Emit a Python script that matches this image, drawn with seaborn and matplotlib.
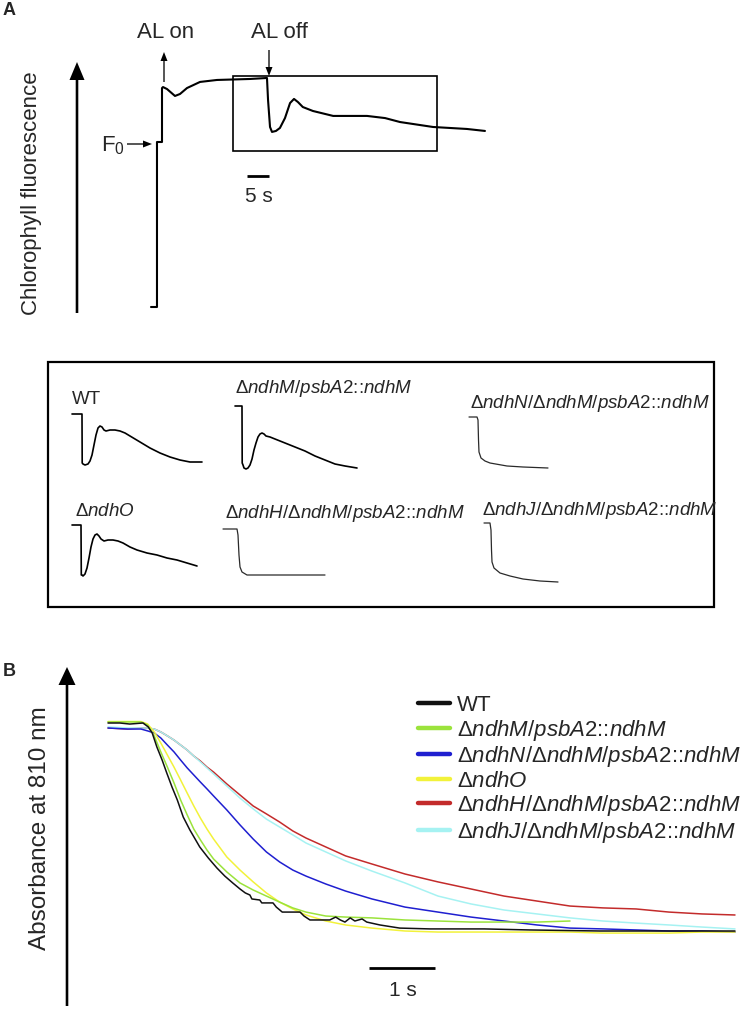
import numpy as np
import pandas as pd
import matplotlib
matplotlib.use("Agg")
import matplotlib.pyplot as plt
from matplotlib.patches import Rectangle
from matplotlib.lines import Line2D
import seaborn as sns

sns.set_theme(style="white")
plt.rcParams["font.family"] = ["Liberation Sans", "DejaVu Sans"]
plt.rcParams["mathtext.fontset"] = "custom"
plt.rcParams["mathtext.rm"] = "Liberation Sans"
plt.rcParams["mathtext.it"] = "Liberation Sans:italic"
plt.rcParams["mathtext.bf"] = "Liberation Sans:bold"

# ---------------- data ----------------
# Panel A: full chlorophyll fluorescence trace (time in s, fluorescence relative to F0)
a_time = [0, 1.36, 1.36, 2.5, 2.5, 2.73, 3.64, 5.45, 6.59, 8.18, 11.14, 15.0, 22.5,
          26.36, 26.6, 27.05, 27.5, 28.4, 29.3, 30.45, 31.6, 32.5, 33.4, 34.5, 36.8,
          41.4, 45.2, 49.1, 53.2, 56.6, 64.1, 71.8, 75.9]
a_fluor = [0, 0, 1.0, 1.0, 1.327, 1.333, 1.321, 1.279, 1.291, 1.327, 1.364, 1.376, 1.382,
           1.388, 1.255, 1.091, 1.061, 1.067, 1.085, 1.145, 1.236, 1.261, 1.242, 1.212, 1.188,
           1.158, 1.158, 1.158, 1.145, 1.121, 1.091, 1.079, 1.067]

# Panel A inset: post-illumination transients (time in s, relative fluorescence)
wt_t = [0, 3.33, 3.4, 3.67, 4.33, 5.33, 6.0, 6.67, 7.33, 8.0, 8.67, 9.33, 10.0, 10.67, 11.33,
        12.67, 14.33, 16.0, 17.67, 19.33, 22.67, 26.0, 29.33, 32.67, 36.0, 39.33, 43.33]
wt_v = [1, 1, 0.51, 0.50, 0.49, 0.50, 0.53, 0.59, 0.69, 0.79, 0.86, 0.88, 0.87, 0.84, 0.83,
        0.84, 0.84, 0.83, 0.81, 0.78, 0.72, 0.66, 0.61, 0.57, 0.54, 0.52, 0.52]
m_t = [0, 2.33, 2.4, 2.67, 3.0, 3.67, 4.33, 5.0, 5.67, 6.33, 7.0, 7.67, 8.33, 9.0, 9.67,
       10.33, 11.67, 13.33, 16.67, 20.0, 23.33, 26.67, 30.0, 33.33, 36.67, 40.67]
m_v = [1, 1, 0.43, 0.41, 0.38, 0.37, 0.38, 0.41, 0.47, 0.56, 0.63, 0.69, 0.72, 0.73, 0.72,
       0.70, 0.69, 0.67, 0.63, 0.59, 0.55, 0.50, 0.46, 0.42, 0.40, 0.38]
n_t = [0, 2.67, 3, 3.17, 3.33, 4, 5.33, 7, 12.67, 18, 26.33]
n_v = [1, 1, 0.97, 0.77, 0.65, 0.59, 0.56, 0.54, 0.51, 0.50, 0.49]
o_t = [0, 3.0, 3.1, 3.33, 3.67, 4.33, 5.0, 5.67, 6.33, 7.0, 7.67, 8.33, 9.0, 9.67, 10.67,
       12.0, 13.67, 15.33, 17.0, 19.33, 21.67, 25.0, 28.33, 31.67, 35.0, 38.33, 41.67]
o_v = [1, 1, 0.50, 0.50, 0.49, 0.51, 0.57, 0.67, 0.78, 0.86, 0.90, 0.91, 0.89, 0.86, 0.84,
       0.85, 0.85, 0.84, 0.82, 0.78, 0.75, 0.72, 0.70, 0.67, 0.65, 0.62, 0.59]
h_t = [0, 4.67, 5, 5.33, 5.67, 6.33, 8, 12.33, 22.33, 34]
h_v = [1, 1, 0.94, 0.74, 0.62, 0.57, 0.54, 0.54, 0.54, 0.54]
j_t = [0, 2, 2.33, 2.5, 2.67, 3.33, 5.33, 8.67, 13, 18.67, 24.67]
j_v = [1, 1, 0.93, 0.73, 0.61, 0.55, 0.50, 0.47, 0.44, 0.42, 0.41]

# Panel B: P700 re-reduction (time in s, relative absorbance at 810 nm)
b_wt_time = [0, 0.18, 0.33, 0.53, 0.61, 0.67, 0.74, 0.82, 0.89, 0.97, 1.05, 1.14, 1.24, 1.39,
             1.52, 1.65, 1.77, 1.89, 2.0, 2.08, 2.15, 2.18, 2.30, 2.33, 2.5, 2.55, 2.64, 2.91,
             2.97, 3.06, 3.36, 3.45, 3.52, 3.59, 3.67, 3.74, 3.85, 3.92, 4.12, 4.42, 4.88,
             5.70, 6.39, 7.45, 9.5]
b_wt = [1.0, 1.0, 0.995, 1.0, 0.981, 0.952, 0.885, 0.822, 0.760, 0.692, 0.630, 0.548, 0.486,
        0.404, 0.351, 0.303, 0.264, 0.231, 0.202, 0.183, 0.173, 0.154, 0.149, 0.135, 0.135,
        0.115, 0.091, 0.091, 0.072, 0.053, 0.053, 0.067, 0.053, 0.043, 0.063, 0.048, 0.058,
        0.043, 0.029, 0.014, 0.010, 0.010, 0.005, 0.0, 0.0]
b_time = [0, 0.3, 0.5, 0.6, 0.7, 0.8, 0.9, 1.0, 1.1, 1.2, 1.3, 1.4, 1.5, 1.6, 1.8, 2.0, 2.2,
          2.4, 2.6, 2.8, 3.0, 3.3, 3.6, 4.0, 4.5, 5.0, 5.5, 6.0, 6.5, 7.0, 7.5, 8.0, 8.5, 9.0, 9.5]
b_m = [1.005, 1.005, 1.005, 0.990, 0.938, 0.861, 0.788, 0.712, 0.630, 0.558, 0.490, 0.438,
       0.389, 0.346, 0.284, 0.231, 0.197, 0.168, 0.139, 0.111, 0.091, 0.072, 0.067, 0.063,
       0.053, 0.048, 0.043, 0.043, 0.043, 0.048, np.nan, np.nan, np.nan, np.nan, np.nan]
b_n = [0.976, 0.971, 0.971, 0.962, 0.952, 0.928, 0.894, 0.861, 0.822, 0.784, 0.750, 0.716,
       0.683, 0.649, 0.582, 0.510, 0.442, 0.380, 0.332, 0.293, 0.264, 0.226, 0.192, 0.154,
       0.115, 0.091, 0.067, 0.048, 0.029, 0.014, 0.010, 0.005, 0.000, 0.000, -0.005]
b_o = [1.007, 1.007, 1.007, 0.995, 0.957, 0.904, 0.846, 0.788, 0.726, 0.663, 0.601, 0.543,
       0.490, 0.442, 0.356, 0.293, 0.236, 0.183, 0.139, 0.106, 0.077, 0.048, 0.029, 0.014,
       0.000, -0.005, -0.005, -0.005, -0.005, -0.005, -0.010, -0.010, -0.010, -0.005, -0.005]
b_h = [0.976, 0.971, 0.976, 0.976, 0.971, 0.957, 0.938, 0.918, 0.894, 0.870, 0.841, 0.817,
       0.788, 0.764, 0.707, 0.654, 0.601, 0.563, 0.524, 0.481, 0.447, 0.404, 0.361, 0.322,
       0.274, 0.236, 0.202, 0.168, 0.144, 0.120, 0.111, 0.106, 0.091, 0.082, 0.077]
b_j = [0.981, 0.976, 0.976, 0.976, 0.971, 0.957, 0.938, 0.918, 0.894, 0.870, 0.841, 0.813,
       0.784, 0.755, 0.697, 0.639, 0.587, 0.538, 0.500, 0.462, 0.423, 0.380, 0.337, 0.288,
       0.231, 0.168, 0.130, 0.101, 0.082, 0.063, 0.048, 0.038, 0.029, 0.019, 0.010]

lab_wt = "WT"
lab_m = r"$\Delta\mathit{ndhM/psbA2}$::$\mathit{ndhM}$"
lab_n = r"$\Delta\mathit{ndhN/}\Delta\mathit{ndhM/psbA2}$::$\mathit{ndhM}$"
lab_o = r"$\Delta\mathit{ndhO}$"
lab_h = r"$\Delta\mathit{ndhH/}\Delta\mathit{ndhM/psbA2}$::$\mathit{ndhM}$"
lab_j = r"$\Delta\mathit{ndhJ/}\Delta\mathit{ndhM/psbA2}$::$\mathit{ndhM}$"

# ---------------- layout ----------------
W, H = 747, 1011
fig = plt.figure(figsize=(W / 100, H / 100), dpi=100)


def trace_axes(box, x0, sx, y0, sy):
    """Axes whose data->pixel mapping is x = x0 + sx*t, y = y0 - sy*v (pixels from top)."""
    l, t, r, b = box
    ax = fig.add_axes([l / W, 1 - b / H, (r - l) / W, (b - t) / H])
    ax.set_xlim((l - x0) / sx, (r - x0) / sx)
    ax.set_ylim((y0 - b) / sy, (y0 - t) / sy)
    ax.axis("off")
    return ax


def draw(ax, t, v, color, lw):
    df = pd.DataFrame({"t": t, "v": v}).dropna()
    sns.lineplot(data=df, x="t", y="v", ax=ax, color=color, lw=lw,
                 estimator=None, sort=False, legend=False)


# Panel A main trace
axA = trace_axes((130, 40, 520, 330), 151, 4.4, 307, 165)
draw(axA, a_time, a_fluor, "black", 1.5)
axA.plot([21.9, 26.9], [0.794, 0.794], color="black", lw=2.0, solid_capstyle="butt")  # 5 s bar

# Panel A inset traces
insets = [
    (wt_t, wt_v, 72, 414, "black", 1.2, lab_wt, 72, 404),
    (m_t, m_v, 235, 406, "black", 1.2, lab_m, 235, 393),
    (n_t, n_v, 469, 417, "#2a2a2a", 0.9, lab_n, 470, 408),
    (o_t, o_v, 72, 525, "black", 1.2, lab_o, 75, 516),
    (h_t, h_v, 223, 529, "#2a2a2a", 0.9, lab_h, 225, 518),
    (j_t, j_v, 484, 523, "#2a2a2a", 0.9, lab_j, 482, 515),
]
for t, v, xs, ys, c, lw, lab, lx, ly in insets:
    ax_i = trace_axes((xs - 10, ys - 15, xs + 150, ys + 80), xs, 3.0, ys + 100, 100)
    draw(ax_i, t, v, c, lw)

# Panel B
axB = trace_axes((60, 650, 745, 1010), 108, 66, 931, 208)
colors_b = {lab_wt: "#111111", lab_m: "#9be33c", lab_n: "#1f1fd0",
            lab_o: "#f2f23a", lab_h: "#c32b2b", lab_j: "#a6f2f2"}
draw(axB, b_time, b_h, colors_b[lab_h], 1.1)
draw(axB, b_time, b_j, colors_b[lab_j], 1.1)
draw(axB, b_time, b_n, colors_b[lab_n], 1.1)
draw(axB, b_time, b_o, colors_b[lab_o], 1.1)
draw(axB, b_time, b_m, colors_b[lab_m], 1.1)
draw(axB, b_wt_time, b_wt, colors_b[lab_wt], 1.1)
axB.plot([3.95, 4.95], [-0.178, -0.178], color="black", lw=2.0, solid_capstyle="butt")  # 1 s bar

order = [lab_wt, lab_m, lab_n, lab_o, lab_h, lab_j]
handles = [Line2D([], [], color=colors_b[k], lw=3.2) for k in order]
axB.legend(handles, order, loc="upper left", bbox_to_anchor=(418 / W, 1 - 695 / H),
           bbox_transform=fig.transFigure, frameon=False, fontsize=16,
           handlelength=1.45, handletextpad=0.32, labelspacing=0.07,
           borderpad=0, borderaxespad=0)

# ---------------- annotation overlay (pixel coordinates) ----------------
ov = fig.add_axes([0, 0, 1, 1])
ov.set_xlim(0, W)
ov.set_ylim(H, 0)
ov.axis("off")

ov.text(3, 2, "A", fontsize=13, fontweight="bold", ha="left", va="top")
ov.text(3, 663, "B", fontsize=13, fontweight="bold", ha="left", va="top")

# axis arrows
ov.arrow(77, 313, 0, -251, width=2.6, head_width=15, head_length=18,
         length_includes_head=True, fc="black", ec="black", lw=0)
ov.arrow(67, 1006, 0, -339, width=2.6, head_width=17, head_length=18,
         length_includes_head=True, fc="black", ec="black", lw=0)
ov.text(32, 193, "Chlorophyll fluorescence", rotation=90, fontsize=16, ha="center", va="center")
ov.text(40, 828, "Absorbance at 810 nm", rotation=90, fontsize=17.5, ha="center", va="center")

# AL on / off, F0
ov.arrow(164, 82, 0, -30, width=1.3, head_width=7, head_length=9,
         length_includes_head=True, fc="black", ec="black", lw=0)
ov.arrow(269, 50, 0, 26, width=1.3, head_width=7, head_length=9,
         length_includes_head=True, fc="black", ec="black", lw=0)
ov.arrow(127, 144, 25, 0, width=1.3, head_width=7, head_length=9,
         length_includes_head=True, fc="black", ec="black", lw=0)
ov.text(166, 33, "AL on", fontsize=16, ha="center", va="center")
ov.text(279, 33, "AL off", fontsize=16, ha="center", va="center")
ov.text(125, 146, "F$_0$", fontsize=16, ha="right", va="center")
ov.text(259, 196, "5 s", fontsize=15, ha="center", va="center")
ov.text(403, 990, "1 s", fontsize=15, ha="center", va="center")

# boxes
ov.add_patch(Rectangle((233, 76), 204, 75, fill=False, lw=1.2, ec="black"))
ov.add_patch(Rectangle((48, 362), 666, 245, fill=False, lw=1.6, ec="black"))

for t, v, xs, ys, c, lw, lab, lx, ly in insets:
    ov.text(lx, ly, lab, fontsize=13.5, ha="left", va="baseline")

fig.savefig("out.png", dpi=100)
